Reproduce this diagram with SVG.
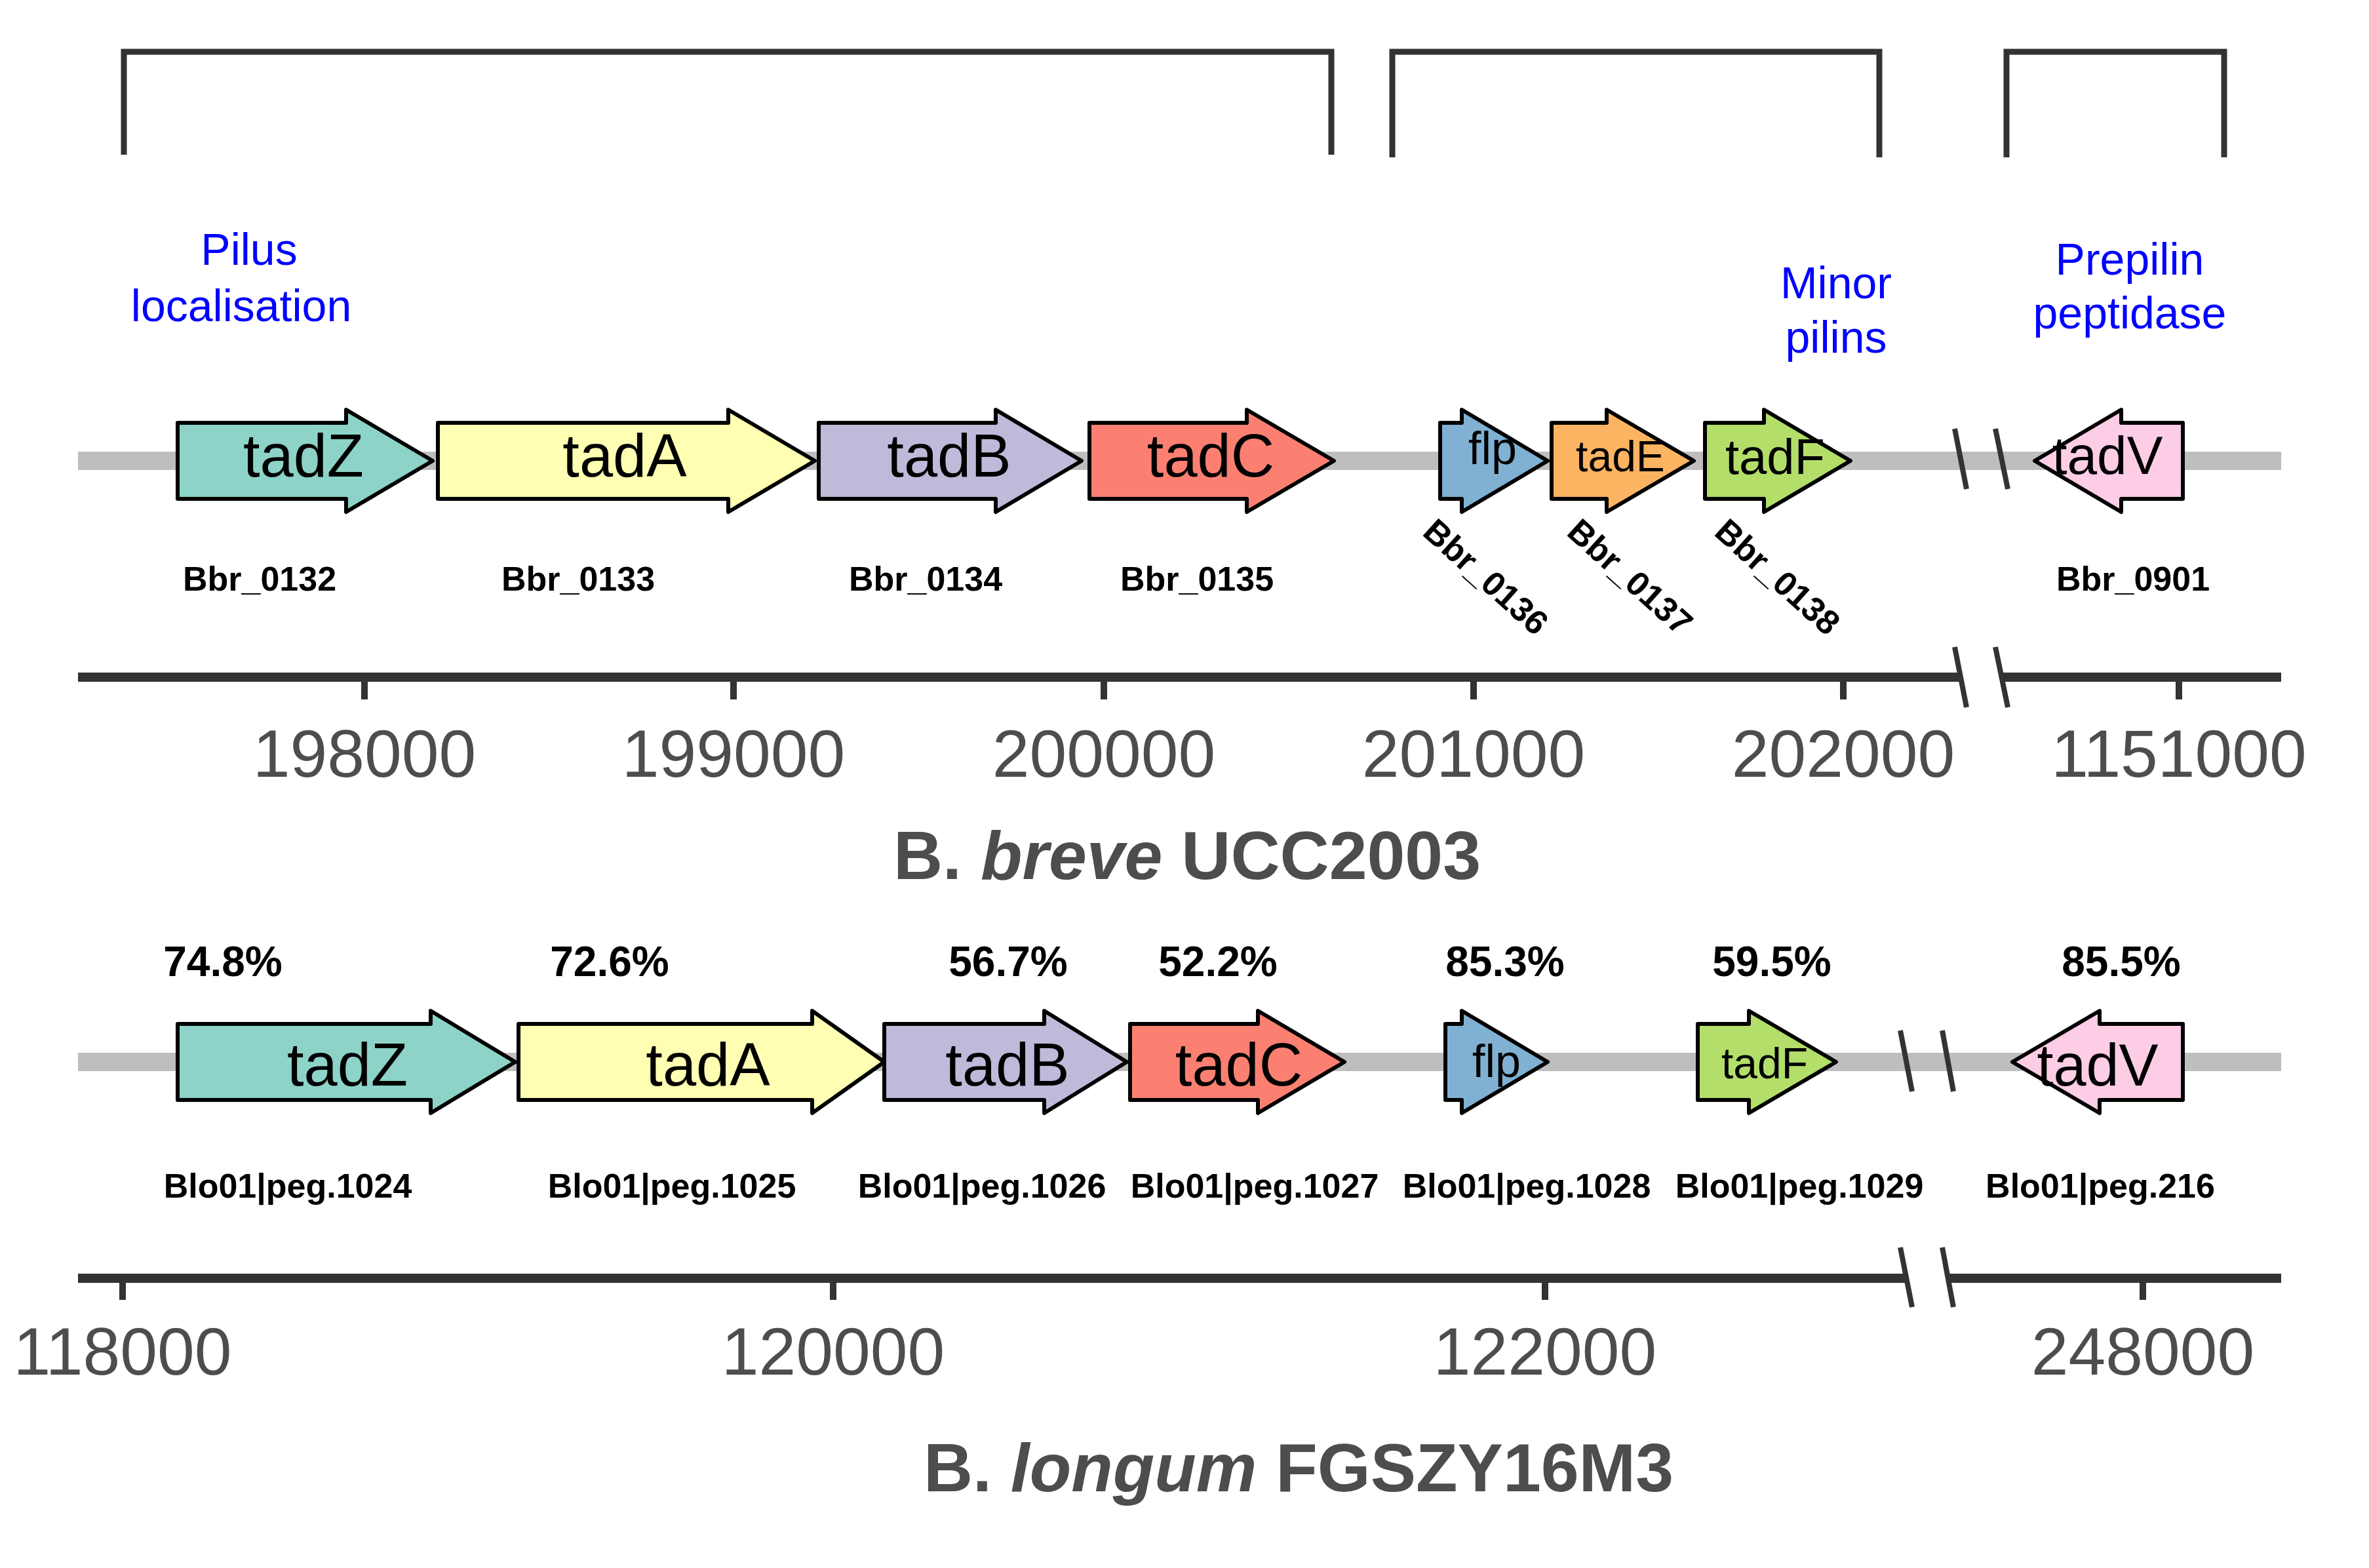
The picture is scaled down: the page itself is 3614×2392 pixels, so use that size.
<svg xmlns="http://www.w3.org/2000/svg" width="3614" height="2392" viewBox="0 0 3614 2392">
<style>
.br{fill:none;stroke:#333;stroke-width:9}
.gl{stroke:#bebebe;stroke-width:28}
.ax{stroke:#333;stroke-width:14}
.tk{stroke:#333;stroke-width:10}
.sl{stroke:#333;stroke-width:8}
.g{stroke:#000;stroke-width:6;stroke-linejoin:round}
.gt{font-family:"Liberation Sans",Arial,sans-serif;text-anchor:middle;fill:#000}
.lt{font-family:"Liberation Sans",Arial,sans-serif;font-weight:bold;font-size:52px;fill:#000}
.pt{font-family:"Liberation Sans",Arial,sans-serif;font-weight:bold;font-size:64px;text-anchor:middle;fill:#000}
.bl{font-family:"Liberation Sans",Arial,sans-serif;font-size:68px;text-anchor:middle;fill:#0000ff}
.tl{font-family:"Liberation Sans",Arial,sans-serif;font-size:102px;text-anchor:middle;fill:#4d4d4d}
.ti{font-family:"Liberation Sans",Arial,sans-serif;font-weight:bold;font-size:104px;text-anchor:middle;fill:#4d4d4d}
</style>
<rect width="3614" height="2392" fill="#fff"/>
<g id="brackets">
<path class="br" d="M189,236 V79 H2031 V236"/>
<path class="br" d="M2124,240 V79 H2867 V240"/>
<path class="br" d="M3061,240 V79 H3393 V240"/>
<text class="bl" x="380" y="404">Pilus</text>
<text class="bl" x="368" y="490">localisation</text>
<text class="bl" x="2801" y="455">Minor</text>
<text class="bl" x="2801" y="538">pilins</text>
<text class="bl" x="3249" y="419">Prepilin</text>
<text class="bl" x="3249" y="501">peptidase</text>
</g>
<g id="connectors">
<line class="gl" x1="119" y1="703" x2="3480" y2="703"/>
<line class="gl" x1="119" y1="1620" x2="3480" y2="1620"/>
<line class="sl" x1="2982" y1="654" x2="3000" y2="746"/>
<line class="sl" x1="3044" y1="654" x2="3063" y2="746"/>
<line class="sl" x1="2899" y1="1572" x2="2917" y2="1665"/>
<line class="sl" x1="2963" y1="1572" x2="2980" y2="1665"/>
</g>
<g id="axis1">
<line class="ax" x1="119" y1="1033" x2="2989" y2="1033"/>
<line class="ax" x1="3052" y1="1033" x2="3480" y2="1033"/>
<line class="sl" x1="2982" y1="987" x2="3000" y2="1079"/>
<line class="sl" x1="3044" y1="987" x2="3063" y2="1079"/>
<line class="tk" x1="556" y1="1033" x2="556" y2="1067"/>
<line class="tk" x1="1119" y1="1033" x2="1119" y2="1067"/>
<line class="tk" x1="1684" y1="1033" x2="1684" y2="1067"/>
<line class="tk" x1="2248" y1="1033" x2="2248" y2="1067"/>
<line class="tk" x1="2812" y1="1033" x2="2812" y2="1067"/>
<line class="tk" x1="3324" y1="1033" x2="3324" y2="1067"/>
<text class="tl" x="556" y="1185">198000</text>
<text class="tl" x="1119" y="1185">199000</text>
<text class="tl" x="1684" y="1185">200000</text>
<text class="tl" x="2248" y="1185">201000</text>
<text class="tl" x="2812" y="1185">202000</text>
<text class="tl" x="3324" y="1185">1151000</text>
<text class="ti" x="1811" y="1341">B. <tspan font-style="italic">breve</tspan> UCC2003</text>
</g>
<g id="axis2">
<line class="ax" x1="119" y1="1950" x2="2906" y2="1950"/>
<line class="ax" x1="2970" y1="1950" x2="3480" y2="1950"/>
<line class="sl" x1="2899" y1="1903" x2="2917" y2="1994"/>
<line class="sl" x1="2963" y1="1903" x2="2980" y2="1994"/>
<line class="tk" x1="187" y1="1950" x2="187" y2="1983"/>
<line class="tk" x1="1271" y1="1950" x2="1271" y2="1983"/>
<line class="tk" x1="2357" y1="1950" x2="2357" y2="1983"/>
<line class="tk" x1="3269" y1="1950" x2="3269" y2="1983"/>
<text class="tl" x="187" y="2097">118000</text>
<text class="tl" x="1271" y="2097">120000</text>
<text class="tl" x="2357" y="2097">122000</text>
<text class="tl" x="3269" y="2097">248000</text>
<text class="ti" x="1981" y="2275">B. <tspan font-style="italic">longum</tspan> FGSZY16M3</text>
</g>
<g id="row1">
<g id="r1-tadZ"><path class="g" fill="#8dd3c7" d="M271,645 H528 V625 L660,703 L528,781 V761 H271 Z"/><text class="gt" font-size="92" x="463" y="727">tadZ</text><text class="lt" x="396" y="901" text-anchor="middle">Bbr_0132</text></g>
<g id="r1-tadA"><path class="g" fill="#ffffb3" d="M668,645 H1111 V625 L1243,703 L1111,781 V761 H668 Z"/><text class="gt" font-size="92" x="953" y="727">tadA</text><text class="lt" x="882" y="901" text-anchor="middle">Bbr_0133</text></g>
<g id="r1-tadB"><path class="g" fill="#bebada" d="M1249,645 H1519 V625 L1650,703 L1519,781 V761 H1249 Z"/><text class="gt" font-size="92" x="1448" y="727">tadB</text><text class="lt" x="1412" y="901" text-anchor="middle">Bbr_0134</text></g>
<g id="r1-tadC"><path class="g" fill="#fb8072" d="M1662,645 H1902 V625 L2035,703 L1902,781 V761 H1662 Z"/><text class="gt" font-size="92" x="1847" y="727">tadC</text><text class="lt" x="1826" y="901" text-anchor="middle">Bbr_0135</text></g>
<g id="r1-flp"><path class="g" fill="#80b1d3" d="M2197,645 H2230 V625 L2361,703 L2230,781 V761 H2197 Z"/><text class="gt" font-size="70" x="2277" y="708">flp</text><text class="lt" transform="translate(2168,815) rotate(42)">Bbr_0136</text></g>
<g id="r1-tadE"><path class="g" fill="#fdb462" d="M2367,645 H2451 V625 L2584,703 L2451,781 V761 H2367 Z"/><text class="gt" font-size="66" x="2472" y="719">tadE</text><text class="lt" transform="translate(2388,815) rotate(42)">Bbr_0137</text></g>
<g id="r1-tadF"><path class="g" fill="#b3de69" d="M2601,645 H2691 V625 L2823,703 L2691,781 V761 H2601 Z"/><text class="gt" font-size="76" x="2708" y="723">tadF</text><text class="lt" transform="translate(2613,815) rotate(42)">Bbr_0138</text></g>
<g id="r1-tadV"><path class="g" fill="#fccde5" d="M3330,645 H3236 V625 L3104,703 L3236,781 V761 H3330 Z"/><text class="gt" font-size="82" x="3215" y="723">tadV</text><text class="lt" x="3254" y="901" text-anchor="middle">Bbr_0901</text></g>
</g>
<g id="row2">
<g id="r2-tadZ"><path class="g" fill="#8dd3c7" d="M271,1562 H657 V1542 L786,1620 L657,1698 V1678 H271 Z"/><text class="gt" font-size="92" x="530" y="1656">tadZ</text><text class="pt" x="340" y="1489">74.8%</text><text class="lt" x="439" y="1827" text-anchor="middle">Blo01|peg.1024</text></g>
<g id="r2-tadA"><path class="g" fill="#ffffb3" d="M791,1562 H1239 V1542 L1349,1620 L1239,1698 V1678 H791 Z"/><text class="gt" font-size="92" x="1080" y="1656">tadA</text><text class="pt" x="930" y="1489">72.6%</text><text class="lt" x="1025" y="1827" text-anchor="middle">Blo01|peg.1025</text></g>
<g id="r2-tadB"><path class="g" fill="#bebada" d="M1349,1562 H1593 V1542 L1719,1620 L1593,1698 V1678 H1349 Z"/><text class="gt" font-size="92" x="1537" y="1656">tadB</text><text class="pt" x="1538" y="1489">56.7%</text><text class="lt" x="1498" y="1827" text-anchor="middle">Blo01|peg.1026</text></g>
<g id="r2-tadC"><path class="g" fill="#fb8072" d="M1724,1562 H1919 V1542 L2051,1620 L1919,1698 V1678 H1724 Z"/><text class="gt" font-size="92" x="1890" y="1656">tadC</text><text class="pt" x="1858" y="1489">52.2%</text><text class="lt" x="1914" y="1827" text-anchor="middle">Blo01|peg.1027</text></g>
<g id="r2-flp"><path class="g" fill="#80b1d3" d="M2205,1562 H2230 V1542 L2361,1620 L2230,1698 V1678 H2205 Z"/><text class="gt" font-size="70" x="2283" y="1643">flp</text><text class="pt" x="2296" y="1489">85.3%</text><text class="lt" x="2329" y="1827" text-anchor="middle">Blo01|peg.1028</text></g>
<g id="r2-tadF"><path class="g" fill="#b3de69" d="M2590,1562 H2668 V1542 L2801,1620 L2668,1698 V1678 H2590 Z"/><text class="gt" font-size="66" x="2692" y="1645">tadF</text><text class="pt" x="2703" y="1489">59.5%</text><text class="lt" x="2745" y="1827" text-anchor="middle">Blo01|peg.1029</text></g>
<g id="r2-tadV"><path class="g" fill="#fccde5" d="M3330,1562 H3203 V1542 L3070,1620 L3203,1698 V1678 H3330 Z"/><text class="gt" font-size="90" x="3200" y="1656">tadV</text><text class="pt" x="3236" y="1489">85.5%</text><text class="lt" x="3204" y="1827" text-anchor="middle">Blo01|peg.216</text></g>
</g>
</svg>
